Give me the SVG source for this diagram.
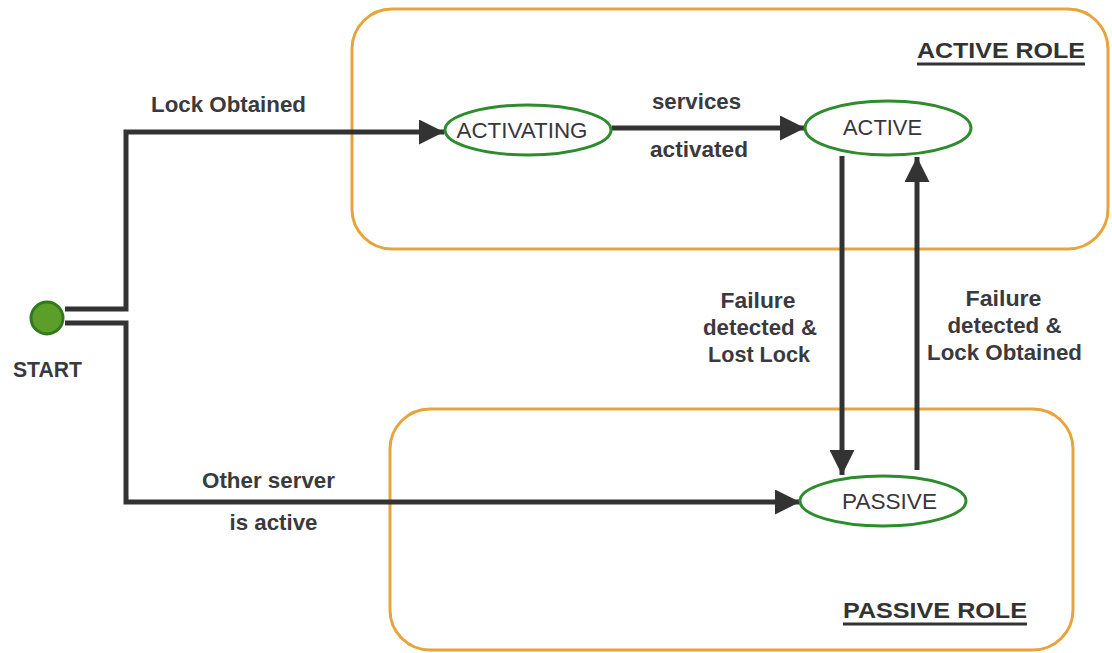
<svg xmlns="http://www.w3.org/2000/svg" width="1112" height="653" viewBox="0 0 1112 653">
<style>
.role{fill:none;stroke:#E8A43C;stroke-width:3}
.state{fill:#fff;stroke:#2E8B2E;stroke-width:3}
.conn{fill:none;stroke:#333;stroke-width:5}
.lbl{font-family:"Liberation Sans",Arial,sans-serif;font-size:22px;font-weight:bold;fill:#3a3a3e;text-anchor:middle}
.nt{font-family:"Liberation Sans",Arial,sans-serif;font-size:22px;fill:#38363c;text-anchor:middle}
.rt{font-family:"Liberation Sans",Arial,sans-serif;font-size:22px;font-weight:bold;fill:#333;text-anchor:start}
.ul{stroke:#333;stroke-width:3}
</style>
<defs>
<marker id="arr" viewBox="0 0 10 10" refX="10" refY="5" markerWidth="5" markerHeight="5" orient="auto">
<path d="M0,0 L10,5 L0,10 z" fill="#333"/>
</marker>
</defs>
<rect width="1112" height="653" fill="#fff"/>
<g id="active-role">
<rect class="role" x="352" y="9" width="756" height="240" rx="40"/>
<text class="rt" x="917" y="58" textLength="168" lengthAdjust="spacingAndGlyphs">ACTIVE ROLE</text>
<line class="ul" x1="917" y1="64" x2="1085" y2="64"/>
</g>
<g id="passive-role">
<rect class="role" x="390" y="409" width="683" height="241" rx="40"/>
<text class="rt" x="843" y="618" textLength="184" lengthAdjust="spacingAndGlyphs">PASSIVE ROLE</text>
<line class="ul" x1="843" y1="624" x2="1027" y2="624"/>
</g>
<g id="connectors">
<polyline class="conn" points="65,309 126,309 126,132 444,132" marker-end="url(#arr)"/>
<polyline class="conn" points="65,323 126,323 126,502 800,502" marker-end="url(#arr)"/>
<line class="conn" x1="612" y1="128" x2="805" y2="128" marker-end="url(#arr)"/>
<line class="conn" x1="842" y1="156" x2="842" y2="475" marker-end="url(#arr)"/>
<line class="conn" x1="917" y1="470" x2="917" y2="157" marker-end="url(#arr)"/>
<text class="lbl" x="228.5" y="112" textLength="155" lengthAdjust="spacingAndGlyphs">Lock Obtained</text>
<text class="lbl" x="696.5" y="109" textLength="89" lengthAdjust="spacingAndGlyphs">services</text>
<text class="lbl" x="699" y="157" textLength="98" lengthAdjust="spacingAndGlyphs">activated</text>
<text class="lbl" x="758" y="308" textLength="75" lengthAdjust="spacingAndGlyphs">Failure</text>
<text class="lbl" x="760" y="335" textLength="114" lengthAdjust="spacingAndGlyphs">detected &amp;</text>
<text class="lbl" x="759" y="362" textLength="102" lengthAdjust="spacingAndGlyphs">Lost Lock</text>
<text class="lbl" x="1003.5" y="306" textLength="76" lengthAdjust="spacingAndGlyphs">Failure</text>
<text class="lbl" x="1004.5" y="333" textLength="114" lengthAdjust="spacingAndGlyphs">detected &amp;</text>
<text class="lbl" x="1004.5" y="360" textLength="155" lengthAdjust="spacingAndGlyphs">Lock Obtained</text>
<text class="lbl" x="268.5" y="488" textLength="133" lengthAdjust="spacingAndGlyphs">Other server</text>
<text class="lbl" x="273.5" y="530" textLength="88" lengthAdjust="spacingAndGlyphs">is active</text>
</g>
<g id="start">
<circle cx="47" cy="318" r="16" fill="#5C9E2A" stroke="#2F7A1C" stroke-width="3"/>
<text class="lbl" x="47.5" y="377" textLength="69" lengthAdjust="spacingAndGlyphs">START</text>
</g>
<g id="activating">
<ellipse class="state" cx="528" cy="130" rx="83" ry="25"/>
<text class="nt" x="522" y="138" textLength="131" lengthAdjust="spacingAndGlyphs">ACTIVATING</text>
</g>
<g id="active">
<ellipse class="state" cx="888" cy="128" rx="83" ry="27"/>
<text class="nt" x="882.5" y="135" textLength="79" lengthAdjust="spacingAndGlyphs">ACTIVE</text>
</g>
<g id="passive">
<ellipse class="state" cx="883" cy="501" rx="83" ry="25"/>
<text class="nt" x="889.5" y="509" textLength="95" lengthAdjust="spacingAndGlyphs">PASSIVE</text>
</g>
</svg>
